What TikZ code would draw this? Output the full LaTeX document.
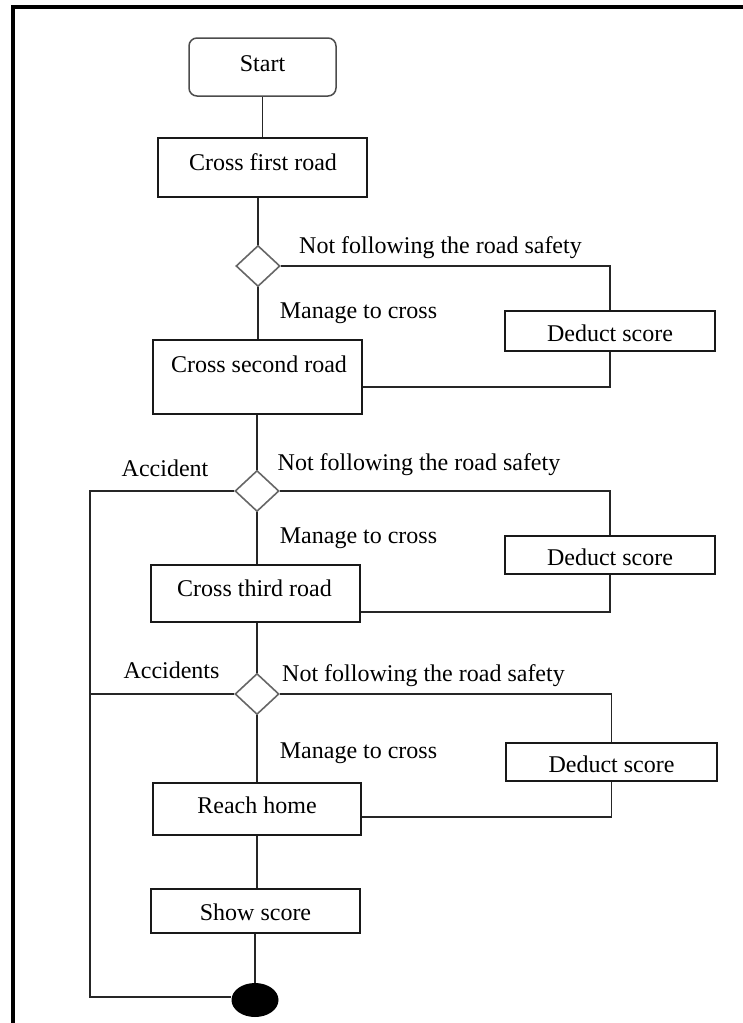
\documentclass[tikz,border=0pt]{standalone}
\usepackage{fontspec}
\setmainfont{Liberation Serif}
\usetikzlibrary{shapes.geometric}
\begin{document}
\begin{tikzpicture}[x=1pt,y=-1pt,
  conn/.style={draw=black!85, line width=1.3pt},
  box/.style={draw=black!90, line width=1.3pt, rectangle, inner sep=0pt},
  startbox/.style={draw=black!70, line width=1.5pt, rounded corners=8pt, rectangle, inner sep=0pt},
  decision/.style={draw=black!60, line width=1.6pt, diamond, inner sep=0pt, minimum width=44pt, minimum height=41pt},
  txt/.style={font=\fontsize{24}{28}\selectfont, inner sep=0pt, text height=16pt, text depth=0pt},
  endnode/.style={fill=black, ellipse, inner sep=0pt, minimum width=47pt, minimum height=34pt},
]
\useasboundingbox (0,0) rectangle (743,1023);
% frame
\draw[line width=4pt] (743,7) -- (13,7) -- (13,1023);

% boxes
\node[startbox, minimum width=147pt, minimum height=58pt] (start) at (262.5,67) {};
\node[txt] (tstart) at (262.5,63) {Start};
\node[box, minimum width=209pt, minimum height=59pt] (cfr) at (262.5,167.5) {};
\node[txt] (tcfr) at (263,162) {Cross first road};
\node[decision] (d1) at (258,266) {};
\node[box, minimum width=210pt, minimum height=40pt] (ded1) at (610,331) {};
\node[txt] (tded1) at (610,333) {Deduct score};
\node[box, minimum width=209pt, minimum height=74pt] (csr) at (257.5,377) {};
\node[txt] (tcsr) at (259,364) {Cross second road};
\node[decision] (d2) at (257,491) {};
\node[box, minimum width=210pt, minimum height=38pt] (ded2) at (610,555) {};
\node[txt] (tded2) at (610,557) {Deduct score};
\node[box, minimum width=209pt, minimum height=57pt] (ctr) at (255.5,593.5) {};
\node[txt] (tctr) at (254.5,588) {Cross third road};
\node[decision] (d3) at (257,694) {};
\node[box, minimum width=211pt, minimum height=38pt] (ded3) at (611.5,762) {};
\node[txt] (tded3) at (611.5,764) {Deduct score};
\node[box, minimum width=208pt, minimum height=52pt] (rh) at (257,809) {};
\node[txt] (trh) at (257,805) {Reach home};
\node[box, minimum width=209pt, minimum height=44pt] (ss) at (255.5,911) {};
\node[txt] (tss) at (255.5,912) {Show score};
\node[endnode] (fin) at (255,1000) {};

% labels
\node[txt] (nf1) at (440.5,245) {Not following the road safety};
\node[txt] (nf2) at (419,462) {Not following the road safety};
\node[txt] (nf3) at (423.5,673) {Not following the road safety};
\node[txt] (mc1) at (358.5,310) {Manage to cross};
\node[txt] (mc2) at (358.5,535) {Manage to cross};
\node[txt] (mc3) at (358.5,750) {Manage to cross};
\node[txt] (acc1) at (165,468) {Accident};
\node[txt] (acc2) at (171.5,670) {Accidents};

% connectors
\draw[conn] (start) -- (cfr);
\draw[conn] (cfr.south -| d1.north) -- (d1.north);
\draw[conn] (d1.east) -| (ded1.north);
\draw[conn] (d1.south) -- (d1.south |- csr.north);
\draw[conn] (ded1.south) |- ([yshift=-10pt]csr.east);
\draw[conn] (csr.south -| d2.north) -- (d2.north);
\draw[conn] (d2.east) -| (ded2.north);
\draw[conn] (d2.south) -- (d2.south |- ctr.north);
\draw[conn] (ded2.south) |- ([yshift=-18.5pt]ctr.east);
\draw[conn] (ctr.south -| d3.north) -- (d3.north);
\draw[conn] (d3.east) -| (ded3.north);
\draw[conn] (d3.south) -- (d3.south |- rh.north);
\draw[conn] (ded3.south) |- ([yshift=-8pt]rh.east);
\draw[conn] (rh.south) -- (rh.south |- ss.north);
\draw[conn] (ss.south -| fin.north) -- (fin.north);
\coordinate (lt) at (90,491);
\coordinate (lb) at (90,997);
\draw[conn] (d2.west) -- (lt) -- (lb) -- (lb -| fin.west);
\draw[conn] (d3.west) -- (d3.west -| lt);
\end{tikzpicture}
\end{document}
